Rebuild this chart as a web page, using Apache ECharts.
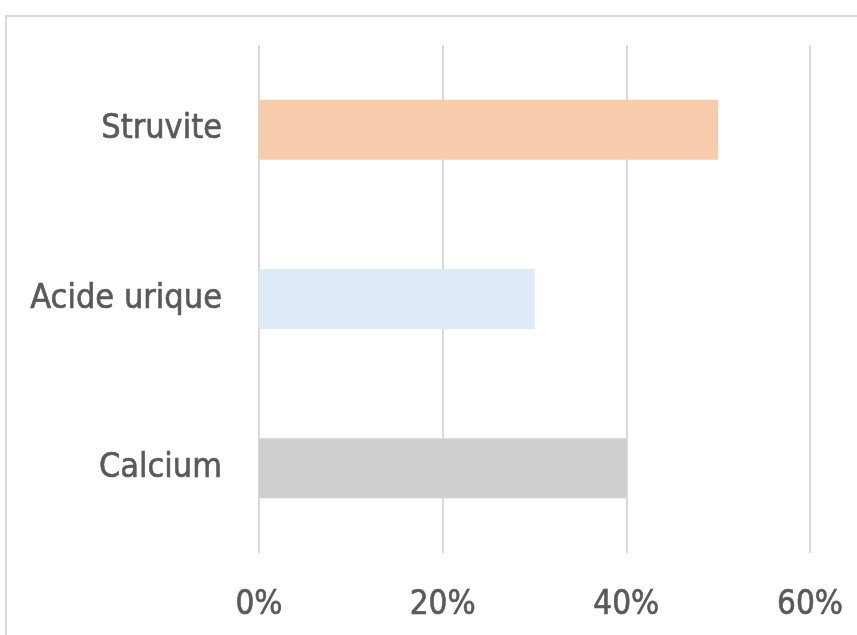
<!DOCTYPE html>
<html>
<head>
<meta charset="utf-8">
<script src="https://cdn.jsdelivr.net/npm/echarts@6/dist/echarts.min.js"></script>
<style>
  html, body { margin: 0; padding: 0; background: #ffffff; }
  #chart { width: 857px; height: 635px; }
</style>
</head>
<body>
<div id="chart"></div>
<script>
// Stone types, bottom to top as drawn on the category axis
const categories = ['Calcium', 'Acide urique', 'Struvite'];
const shares = [0.40, 0.30, 0.50];
const barColors = ['#d0cecf', '#deeaf6', '#f8cbad'];
const tickValues = [0, 0.2, 0.4, 0.6];

const FONT = '"DejaVu Sans Condensed", "DejaVu Sans", sans-serif';
const TEXT_COLOR = '#595959';
const chart = echarts.init(document.getElementById('chart'), null, { renderer: 'canvas' });

chart.setOption({
  animation: false,
  backgroundColor: '#ffffff',
  graphic: [{
    type: 'rect',
    shape: { x: 6, y: 16, width: 900, height: 700 },
    style: { fill: 'none', stroke: '#d9d9d9', lineWidth: 2 },
    silent: true
  }],
  grid: { left: 259, right: 47, top: 45, bottom: 82, containLabel: false },
  xAxis: {
    type: 'value',
    min: tickValues[0],
    max: tickValues[tickValues.length - 1],
    interval: 0.2,
    axisLine: { show: false },
    axisTick: { show: false },
    splitLine: { show: true, lineStyle: { color: '#d9d9d9', width: 2 } },
    axisLabel: {
      margin: 36,
      color: TEXT_COLOR,
      fontSize: 33,
      fontFamily: FONT,
      textBorderColor: TEXT_COLOR,
      textBorderWidth: 0.6,
      formatter: v => Math.round(v * 100) + '%'
    }
  },
  yAxis: {
    type: 'category',
    data: categories,
    axisLine: { show: false },
    axisTick: { show: false },
    splitLine: { show: false },
    axisLabel: {
      margin: 37,
      color: TEXT_COLOR,
      fontSize: 34,
      fontFamily: FONT,
      textBorderColor: TEXT_COLOR,
      textBorderWidth: 0.6
    }
  },
  series: [{
    type: 'bar',
    barWidth: 60,
    data: shares.map((v, i) => ({ value: v, itemStyle: { color: barColors[i] } }))
  }]
});
</script>
</body>
</html>
